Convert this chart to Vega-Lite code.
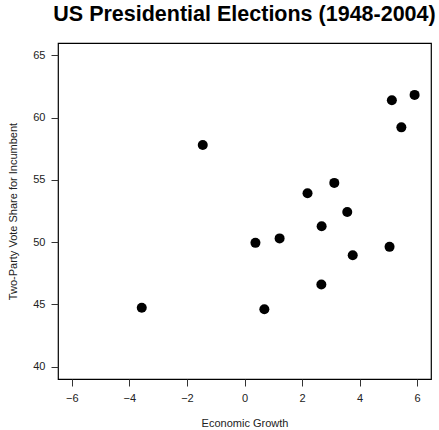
{
  "$schema": "https://vega.github.io/schema/vega-lite/v6.json",
  "autosize": "none",
  "width": 373,
  "height": 336,
  "padding": {"left": 58, "top": 43, "right": 8, "bottom": 51},
  "background": "white",
  "title": {"text": "US Presidential Elections (1948-2004)", "font": "Liberation Sans", "fontSize": 21.5, "fontWeight": "bold", "color": "black", "anchor": "middle", "baseline": "bottom", "offset": 17, "dy": 21},
  "config": {
    "view": {"stroke": "black", "strokeWidth": 1.2},
    "axis": {"grid": false, "domain": false, "tickColor": "#333", "tickSize": 7, "labelFont": "Liberation Sans", "labelFontSize": 11, "labelColor": "#222", "titleFont": "Liberation Sans", "titleFontSize": 11, "titleFontWeight": "normal", "titleColor": "#222", "labelPadding": 6}
  },
  "data": {"values": [
    {"growth": 5.12, "vote": 61.4},
    {"growth": 5.91, "vote": 61.83},
    {"growth": 5.45, "vote": 59.22},
    {"growth": -1.45, "vote": 57.8},
    {"growth": 3.12, "vote": 54.76},
    {"growth": 2.19, "vote": 53.93},
    {"growth": 3.57, "vote": 52.42},
    {"growth": 2.68, "vote": 51.27},
    {"growth": 0.38, "vote": 49.94},
    {"growth": 1.22, "vote": 50.3},
    {"growth": 5.04, "vote": 49.62},
    {"growth": 3.76, "vote": 48.95},
    {"growth": 2.67, "vote": 46.59},
    {"growth": -3.57, "vote": 44.73},
    {"growth": 0.69, "vote": 44.6}
  ]},
  "mark": {"type": "circle", "size": 100, "color": "black", "opacity": 1},
  "encoding": {
    "x": {"field": "growth", "type": "quantitative", "title": "Economic Growth", "scale": {"domain": [-6.48, 6.48], "nice": false, "zero": false}, "axis": {"values": [-6, -4, -2, 0, 2, 4, 6], "titlePadding": 14}},
    "y": {"field": "vote", "type": "quantitative", "title": "Two-Party Vote Share for Incumbent", "scale": {"domain": [39, 66], "nice": false, "zero": false}, "axis": {"values": [40, 45, 50, 55, 60, 65], "titlePadding": 14}}
  }
}
